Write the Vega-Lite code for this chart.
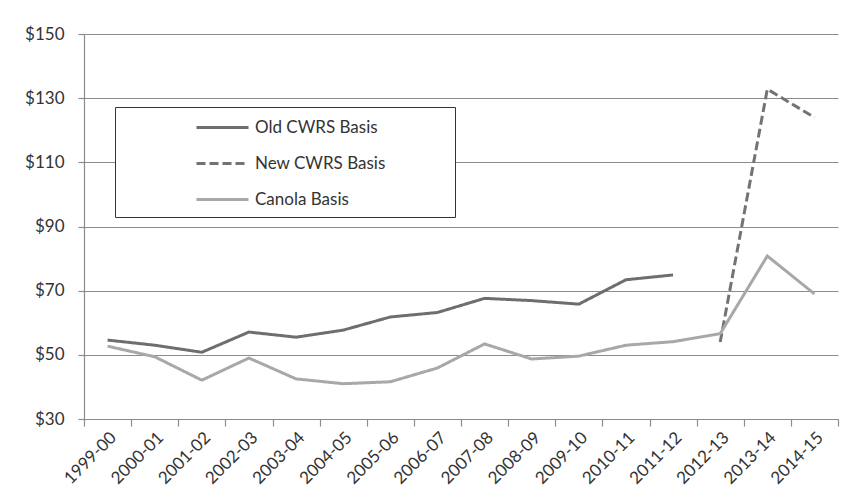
{
  "$schema": "https://vega.github.io/schema/vega-lite/v6.json",
  "width": 754,
  "height": 385,
  "autosize": {"type": "none"},
  "padding": {"left": 84, "top": 34, "right": 16, "bottom": 85},
  "background": "white",
  "config": {
    "font": "Lato",
    "view": {"stroke": null},
    "axis": {"labelFont": "Lato", "labelFontSize": 17, "labelColor": "#333333", "domainColor": "#8c8c8c", "tickColor": "#8c8c8c", "gridColor": "#8c8c8c", "gridWidth": 1, "domainWidth": 1.2, "tickWidth": 1.2}
  },
  "data": {
    "values": [
      {"season": "1999-00", "series": "Old CWRS Basis", "value": 54.6},
      {"season": "2000-01", "series": "Old CWRS Basis", "value": 53.0},
      {"season": "2001-02", "series": "Old CWRS Basis", "value": 50.8},
      {"season": "2002-03", "series": "Old CWRS Basis", "value": 57.1},
      {"season": "2003-04", "series": "Old CWRS Basis", "value": 55.5},
      {"season": "2004-05", "series": "Old CWRS Basis", "value": 57.7},
      {"season": "2005-06", "series": "Old CWRS Basis", "value": 61.8},
      {"season": "2006-07", "series": "Old CWRS Basis", "value": 63.2},
      {"season": "2007-08", "series": "Old CWRS Basis", "value": 67.6},
      {"season": "2008-09", "series": "Old CWRS Basis", "value": 66.9},
      {"season": "2009-10", "series": "Old CWRS Basis", "value": 65.8},
      {"season": "2010-11", "series": "Old CWRS Basis", "value": 73.4},
      {"season": "2011-12", "series": "Old CWRS Basis", "value": 74.9},
      {"season": "2012-13", "series": "New CWRS Basis", "value": 54.0},
      {"season": "2013-14", "series": "New CWRS Basis", "value": 132.8},
      {"season": "2014-15", "series": "New CWRS Basis", "value": 124.0},
      {"season": "1999-00", "series": "Canola Basis", "value": 52.7},
      {"season": "2000-01", "series": "Canola Basis", "value": 49.4},
      {"season": "2001-02", "series": "Canola Basis", "value": 42.1},
      {"season": "2002-03", "series": "Canola Basis", "value": 49.0},
      {"season": "2003-04", "series": "Canola Basis", "value": 42.5},
      {"season": "2004-05", "series": "Canola Basis", "value": 41.0},
      {"season": "2005-06", "series": "Canola Basis", "value": 41.6},
      {"season": "2006-07", "series": "Canola Basis", "value": 45.9},
      {"season": "2007-08", "series": "Canola Basis", "value": 53.4},
      {"season": "2008-09", "series": "Canola Basis", "value": 48.7},
      {"season": "2009-10", "series": "Canola Basis", "value": 49.6},
      {"season": "2010-11", "series": "Canola Basis", "value": 53.0},
      {"season": "2011-12", "series": "Canola Basis", "value": 54.1},
      {"season": "2012-13", "series": "Canola Basis", "value": 56.6},
      {"season": "2013-14", "series": "Canola Basis", "value": 80.8},
      {"season": "2014-15", "series": "Canola Basis", "value": 69.0}
    ]
  },
  "mark": {"type": "line", "strokeWidth": 3},
  "encoding": {
    "x": {
      "field": "season",
      "type": "ordinal",
      "scale": {"type": "band", "paddingInner": 0, "paddingOuter": 0},
      "axis": {"title": null, "labelAngle": -45, "tickBand": "extent", "tickSize": 7, "grid": false, "labelPadding": 3}
    },
    "y": {
      "field": "value",
      "type": "quantitative",
      "scale": {"domain": [30, 150], "nice": false, "zero": false},
      "axis": {"title": null, "values": [30, 50, 70, 90, 110, 130, 150], "format": "$.0f", "tickSize": 6, "labelPadding": 14, "grid": true}
    },
    "color": {
      "field": "series",
      "type": "nominal",
      "scale": {"domain": ["Old CWRS Basis", "New CWRS Basis", "Canola Basis"], "range": ["#6e6e6e", "#737373", "#a8a8a8"]},
      "legend": {
        "title": null,
        "orient": "none",
        "legendX": 31,
        "legendY": 73,
        "direction": "vertical",
        "padding": 9,
        "strokeColor": "#333333",
        "fillColor": "white",
        "symbolType": "M-2.6,0H2.6",
        "symbolSize": 400,
        "symbolStrokeWidth": 3,
        "symbolOffset": 87,
        "labelOffset": 21,
        "labelFont": "Lato",
        "labelFontSize": 17,
        "labelColor": "#333333",
        "rowPadding": 16,
        "labelExpr": "datum.label + '\u2800\u2800\u2800\u2800\u2800'",
        "labelLimit": 400
      }
    },
    "strokeDash": {
      "field": "series",
      "type": "nominal",
      "scale": {"domain": ["Old CWRS Basis", "New CWRS Basis", "Canola Basis"], "range": [[1, 0], [9, 4], [1, 0]]},
      "legend": null
    }
  }
}
